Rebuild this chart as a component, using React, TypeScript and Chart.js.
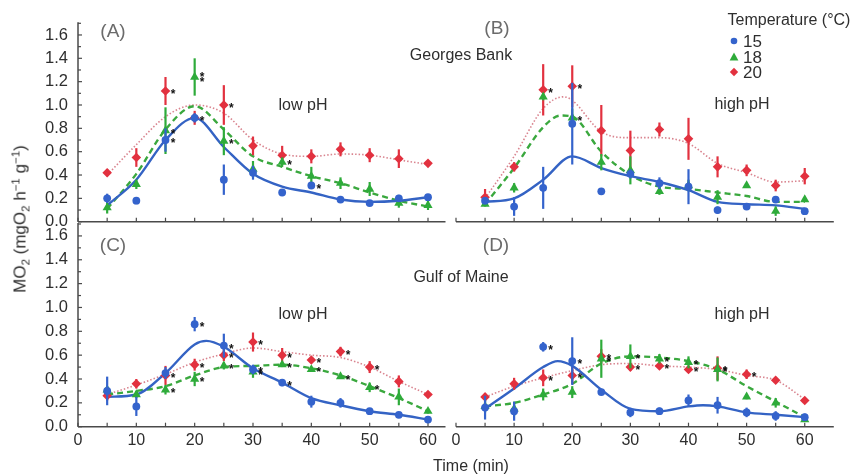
import React, { useEffect, useRef } from 'react';
import { Chart, registerables } from 'chart.js';
Chart.register(...registerables);

const W = 857;
const H = 474;
const FONT = "'Liberation Sans', Arial, Helvetica, sans-serif";
const BLUE = '#3463cc';
const GREEN = '#2eab3a';
const RED = '#e2313f';
const BLUE_CURVE = '#3463c4';
const GREEN_CURVE = '#3aa83e';
const RED_CURVE = '#d9848f';
const AXIS = '#4a4a4a';
const TEXT = '#2e2e2e';

// sampling times (min)
const times = [5, 10, 15, 20, 25, 30, 35, 40, 45, 50, 55, 60];
const xTickLabels = [0, 10, 20, 30, 40, 50, 60];
const yTickLabels = [0, 0.2, 0.4, 0.6, 0.8, 1.0, 1.2, 1.4, 1.6];

// ---- Panel A: Georges Bank, low pH ----
const A15 = [0.2, 0.18, 0.7, 0.89, 0.36, 0.42, 0.25, 0.31, 0.19, 0.16, 0.2, 0.21];
const A15err = [0.04, 0.03, 0.1, 0.04, 0.13, 0.06, 0.02, 0.03, 0.02, 0.01, 0.03, 0.02];
const A15star = [0, 0, 1, 1, 0, 0, 0, 1, 0, 0, 0, 0];
const A18 = [0.12, 0.32, 0.78, 1.24, 0.69, 0.45, 0.51, 0.39, 0.33, 0.28, 0.16, 0.14];
const A18err = [0.05, 0.04, 0.2, 0.16, 0.12, 0.07, 0.04, 0.08, 0.05, 0.06, 0.04, 0.04];
const A18star = [0, 0, 1, 2, 1, 0, 1, 0, 0, 0, 0, 0];
const A20 = [0.42, 0.55, 1.12, 0.89, 1.0, 0.65, 0.57, 0.56, 0.62, 0.57, 0.54, 0.5];
const A20err = [0.03, 0.08, 0.12, 0.06, 0.17, 0.08, 0.08, 0.06, 0.06, 0.06, 0.08, 0.02];
const A20star = [0, 0, 1, 0, 1, 0, 0, 0, 0, 0, 0, 0];
const fitA15 = [[5, 0.14], [10, 0.36], [15, 0.7], [20, 0.89], [25, 0.64], [30, 0.41], [35, 0.3], [40, 0.25], [45, 0.19], [50, 0.17], [55, 0.18], [60, 0.21]];
const fitA18 = [[5, 0.11], [10, 0.41], [15, 0.79], [20, 0.99], [25, 0.79], [30, 0.56], [35, 0.47], [40, 0.39], [45, 0.33], [50, 0.25], [55, 0.18], [60, 0.13]];
const fitA20 = [[5, 0.4], [10, 0.66], [15, 0.9], [20, 1.0], [25, 0.93], [30, 0.7], [35, 0.58], [40, 0.56], [45, 0.58], [50, 0.57], [55, 0.53], [60, 0.49]];

// ---- Panel B: Georges Bank, high pH ----
const B15 = [0.18, 0.13, 0.29, 0.84, 0.26, 0.41, 0.33, 0.3, 0.1, 0.13, 0.19, 0.09];
const B15err = [0.03, 0.08, 0.18, 0.35, 0, 0.04, 0.05, 0.15, 0.03, 0.01, 0.03, 0.02];
const B15star = [0, 0, 0, 0, 0, 0, 0, 0, 0, 0, 0, 0];
const B18 = [0.15, 0.29, 1.07, 0.89, 0.51, 0.44, 0.26, 0.31, 0.21, 0.31, 0.09, 0.19];
const B18err = [0.02, 0.04, 0.03, 0.08, 0.07, 0.12, 0.03, 0.05, 0.06, 0.02, 0.04, 0.02];
const B18star = [0, 0, 0, 1, 0, 0, 0, 0, 0, 0, 0, 0];
const B20 = [0.21, 0.47, 1.13, 1.16, 0.78, 0.61, 0.79, 0.71, 0.47, 0.44, 0.31, 0.39];
const B20err = [0.07, 0.04, 0.22, 0.18, 0.22, 0.17, 0.06, 0.18, 0.09, 0.05, 0.05, 0.07];
const B20star = [0, 0, 1, 1, 0, 0, 0, 0, 0, 0, 0, 0];
const fitB15 = [[5, 0.17], [10, 0.2], [15, 0.36], [20, 0.56], [25, 0.46], [30, 0.39], [35, 0.34], [40, 0.27], [45, 0.17], [50, 0.15], [55, 0.14], [60, 0.11]];
const fitB18 = [[5, 0.15], [10, 0.46], [15, 0.81], [18, 0.91], [20, 0.9], [25, 0.6], [30, 0.4], [35, 0.3], [40, 0.28], [45, 0.25], [50, 0.22], [55, 0.17], [60, 0.17]];
const fitB20 = [[5, 0.2], [10, 0.56], [15, 0.97], [18.5, 1.07], [20, 1.04], [25, 0.77], [30, 0.72], [35, 0.72], [40, 0.67], [45, 0.5], [50, 0.42], [55, 0.34], [60, 0.35]];

// ---- Panel C: Gulf of Maine, low pH ----
const C15 = [0.3, 0.17, 0.45, 0.86, 0.68, 0.48, 0.37, 0.21, 0.2, 0.13, 0.1, 0.06];
const C15err = [0.12, 0.08, 0.05, 0.06, 0.1, 0.04, 0.03, 0.05, 0.04, 0.02, 0.02, 0.02];
const C15star = [0, 0, 0, 1, 1, 1, 1, 0, 0, 0, 0, 0];
const C18 = [0.31, 0.27, 0.31, 0.4, 0.51, 0.46, 0.52, 0.48, 0.42, 0.33, 0.25, 0.13];
const C18err = [0.03, 0.03, 0.04, 0.06, 0.03, 0.05, 0.02, 0.02, 0.02, 0.04, 0.07, 0.02];
const C18star = [0, 0, 1, 1, 1, 1, 1, 1, 1, 1, 0, 0];
const C20 = [0.26, 0.36, 0.43, 0.52, 0.6, 0.71, 0.6, 0.56, 0.63, 0.5, 0.38, 0.27];
const C20err = [0.04, 0.04, 0.08, 0.05, 0.05, 0.08, 0.06, 0.02, 0.04, 0.05, 0.05, 0.02];
const C20star = [0, 0, 1, 1, 1, 1, 1, 1, 1, 1, 0, 0];
const fitC15 = [[5, 0.25], [10, 0.27], [15, 0.45], [20, 0.69], [22, 0.72], [25, 0.67], [30, 0.49], [35, 0.37], [40, 0.24], [45, 0.18], [50, 0.13], [55, 0.1], [60, 0.06]];
const fitC18 = [[5, 0.27], [10, 0.3], [15, 0.34], [20, 0.43], [25, 0.5], [30, 0.51], [35, 0.52], [40, 0.49], [45, 0.43], [50, 0.34], [55, 0.24], [60, 0.13]];
const fitC20 = [[5, 0.27], [10, 0.35], [15, 0.44], [20, 0.54], [25, 0.61], [30, 0.66], [35, 0.63], [40, 0.6], [45, 0.58], [50, 0.5], [55, 0.38], [60, 0.27]];

// ---- Panel D: Gulf of Maine, high pH ----
const D15 = [0.16, 0.13, 0.67, 0.55, 0.29, 0.12, 0.13, 0.22, 0.18, 0.12, 0.09, 0.08];
const D15err = [0.1, 0.08, 0.04, 0.2, 0.02, 0.04, 0.03, 0.05, 0.07, 0.04, 0.04, 0.03];
const D15star = [0, 0, 1, 1, 0, 0, 0, 0, 0, 0, 0, 0];
const D18 = [0.17, 0.15, 0.27, 0.29, 0.57, 0.59, 0.57, 0.54, 0.48, 0.25, 0.2, 0.06];
const D18err = [0.05, 0.06, 0.05, 0.05, 0.16, 0.1, 0.04, 0.05, 0.1, 0.02, 0.04, 0.02];
const D18star = [0, 0, 0, 0, 1, 1, 1, 1, 1, 0, 0, 0];
const D20 = [0.25, 0.36, 0.41, 0.43, 0.59, 0.5, 0.51, 0.48, 0.49, 0.44, 0.39, 0.22];
const D20err = [0.03, 0.05, 0.07, 0.07, 0.06, 0.03, 0.02, 0.03, 0.1, 0.04, 0.02, 0.02];
const D20star = [0, 0, 1, 1, 1, 1, 1, 1, 1, 1, 0, 0];
const fitD15 = [[5, 0.15], [10, 0.32], [15, 0.5], [17.5, 0.55], [20, 0.51], [25, 0.31], [30, 0.15], [35, 0.13], [40, 0.17], [42.5, 0.18], [45, 0.17], [50, 0.12], [55, 0.1], [60, 0.08]];
const fitD18 = [[5, 0.17], [10, 0.2], [15, 0.27], [20, 0.36], [25, 0.53], [30, 0.59], [35, 0.58], [40, 0.55], [45, 0.48], [50, 0.34], [55, 0.21], [60, 0.08]];
const fitD20 = [[5, 0.25], [10, 0.34], [15, 0.41], [20, 0.47], [25, 0.52], [30, 0.53], [35, 0.51], [40, 0.5], [45, 0.48], [50, 0.43], [55, 0.39], [60, 0.23]];

type Panel = {
  v: number[][]; e: number[][]; s: number[][]; fit: number[][][];
  left: number; top: number; right: number; bottom: number;
  xMax: number; yAxis: boolean; xLabels: boolean;
};

const TOP_Y = [23.3, 221.7];
const BOT_Y = [224, 426.7];

const panels: Panel[] = [
  { v: [A15, A18, A20], e: [A15err, A18err, A20err], s: [A15star, A18star, A20star], fit: [fitA15, fitA18, fitA20],
    left: 78, right: 445.5, top: TOP_Y[0], bottom: TOP_Y[1], xMax: 63, yAxis: true, xLabels: false },
  { v: [B15, B18, B20], e: [B15err, B18err, B20err], s: [B15star, B18star, B20star], fit: [fitB15, fitB18, fitB20],
    left: 456, right: 833.8, top: TOP_Y[0], bottom: TOP_Y[1], xMax: 65, yAxis: false, xLabels: false },
  { v: [C15, C18, C20], e: [C15err, C18err, C20err], s: [C15star, C18star, C20star], fit: [fitC15, fitC18, fitC20],
    left: 78, right: 445.5, top: BOT_Y[0], bottom: BOT_Y[1], xMax: 63, yAxis: true, xLabels: true },
  { v: [D15, D18, D20], e: [D15err, D18err, D20err], s: [D15star, D18star, D20star], fit: [fitD15, fitD18, fitD20],
    left: 456, right: 833.8, top: BOT_Y[0], bottom: BOT_Y[1], xMax: 65, yAxis: false, xLabels: true },
];

const decorPlugin = {
  id: 'decor',
  beforeDatasetsDraw(chart: any) {
    const { ctx, chartArea, scales } = chart;
    const opts = chart.options.plugins.decor;
    ctx.save();
    ctx.strokeStyle = AXIS;
    ctx.lineWidth = 1.5;
    ctx.beginPath();
    ctx.moveTo(chartArea.left, chartArea.bottom);
    ctx.lineTo(chartArea.right, chartArea.bottom);
    ctx.stroke();
    ctx.lineWidth = 1.2;
    for (let t = 0; t <= 60; t += 5) {
      const x = scales.x.getPixelForValue(t);
      ctx.beginPath();
      ctx.moveTo(x, chartArea.bottom);
      ctx.lineTo(x, chartArea.bottom - 4);
      ctx.stroke();
    }
    if (opts.yAxis) {
      ctx.lineWidth = 1.5;
      ctx.beginPath();
      ctx.moveTo(chartArea.left, chartArea.bottom);
      ctx.lineTo(chartArea.left, chartArea.top - 1);
      ctx.stroke();
      ctx.lineWidth = 1.2;
      for (let i = 0; i <= 17; i++) {
        const y = scales.y.getPixelForValue(i / 10);
        ctx.beginPath();
        ctx.moveTo(chartArea.left, y);
        ctx.lineTo(chartArea.left + (i % 2 === 0 ? 4 : 3), y);
        ctx.stroke();
      }
    }
    ctx.restore();
  },
  beforeDatasetDraw(chart: any, args: any) {
    const ds: any = chart.data.datasets[args.index];
    if (!ds.errs) return;
    const ys = chart.scales.y;
    const ctx = chart.ctx;
    ctx.save();
    ctx.strokeStyle = ds.borderColor;
    ctx.lineWidth = 2.2;
    args.meta.data.forEach((el: any, j: number) => {
      const err = ds.errs[j];
      if (!err) return;
      const v = ds.data[j].y;
      ctx.beginPath();
      ctx.moveTo(el.x, ys.getPixelForValue(v + err));
      ctx.lineTo(el.x, ys.getPixelForValue(v - err));
      ctx.stroke();
    });
    ctx.restore();
  },
  afterDatasetsDraw(chart: any) {
    const ctx = chart.ctx;
    ctx.save();
    ctx.fillStyle = '#111';
    ctx.font = `bold 12px ${FONT}`;
    ctx.textAlign = 'center';
    ctx.textBaseline = 'alphabetic';
    chart.data.datasets.forEach((ds: any, i: number) => {
      if (!ds.stars) return;
      const meta = chart.getDatasetMeta(i);
      meta.data.forEach((el: any, j: number) => {
        const n = ds.stars[j];
        if (n === 1) ctx.fillText('*', el.x + 7.5, el.y + 7);
        if (n === 2) {
          ctx.fillText('*', el.x + 7.5, el.y + 4.5);
          ctx.fillText('*', el.x + 7.5, el.y + 9.5);
        }
      });
    });
    ctx.restore();
  },
};

function makeConfig(p: Panel): any {
  const colors = [BLUE, GREEN, RED];
  const styles = ['circle', 'triangle', 'rectRot'];
  const radii = [3.9, 5.3, 4.8];
  const pointSets = [0, 1, 2].map((k) => ({
    label: ['15', '18', '20'][k],
    data: times.map((t, j) => ({ x: t, y: p.v[k][j] })),
    errs: p.e[k],
    stars: p.s[k],
    showLine: false,
    pointStyle: styles[k],
    pointRadius: radii[k],
    backgroundColor: colors[k],
    borderColor: colors[k],
    borderWidth: 0,
  }));
  const curveColors = [BLUE_CURVE, GREEN_CURVE, RED_CURVE];
  const dashes = [[], [6, 4], [1.5, 2]];
  const widths = [2.4, 2.4, 1.6];
  const curveSets = [0, 1, 2].map((k) => ({
    label: 'fit' + k,
    data: p.fit[k].map(([x, y]) => ({ x, y })),
    showLine: true,
    pointRadius: 0,
    borderColor: curveColors[k],
    borderWidth: widths[k],
    borderDash: dashes[k],
    cubicInterpolationMode: 'monotone',
    fill: false,
  }));
  const yWidth = 60;
  const xHeight = 30;
  return {
    type: 'scatter',
    data: { datasets: [...pointSets, ...curveSets] },
    plugins: [decorPlugin],
    options: {
      animation: false,
      responsive: false,
      devicePixelRatio: 1,
      events: [],
      layout: {
        padding: {
          left: p.yAxis ? p.left - yWidth : p.left,
          right: W - p.right,
          top: p.top,
          bottom: p.xLabels ? H - p.bottom - xHeight : H - p.bottom,
        },
      },
      plugins: {
        legend: { display: false },
        tooltip: { enabled: false },
        decor: { yAxis: p.yAxis },
      },
      scales: {
        x: {
          type: 'linear',
          min: 0,
          max: p.xMax,
          display: p.xLabels,
          grid: { display: false, drawTicks: false },
          border: { display: false },
          ticks: { font: { size: 16, family: FONT }, color: TEXT, padding: 4, maxRotation: 0 },
          afterBuildTicks: (s: any) => { s.ticks = xTickLabels.map((v) => ({ value: v })); },
          afterFit: (s: any) => { s.height = p.xLabels ? xHeight : 0; },
        },
        y: {
          type: 'linear',
          min: 0,
          max: 1.7,
          display: p.yAxis,
          grid: { display: false, drawTicks: false },
          border: { display: false },
          ticks: {
            font: { size: 16.5, family: FONT },
            color: TEXT,
            padding: 10,
            callback: (v: any) => Number(v).toFixed(1),
          },
          afterBuildTicks: (s: any) => { s.ticks = yTickLabels.map((v) => ({ value: v })); },
          afterFit: (s: any) => { s.width = p.yAxis ? yWidth : 0; },
        },
      },
    },
  };
}

function PanelChart({ p }: { p: Panel }) {
  const ref = useRef<HTMLCanvasElement>(null);
  useEffect(() => {
    const chart = new Chart(ref.current as HTMLCanvasElement, makeConfig(p));
    return () => chart.destroy();
  }, [p]);
  return (
    <canvas
      ref={ref}
      width={W}
      height={H}
      style={{ position: 'absolute', left: 0, top: 0, width: W, height: H }}
    />
  );
}

function Label({ x, y, text, size = 16, color = TEXT }: { x: number; y: number; text: string; size?: number; color?: string }) {
  return (
    <div
      style={{
        position: 'absolute', left: x, top: y, transform: 'translate(-50%, -50%)',
        font: `${size}px ${FONT}`, color, whiteSpace: 'nowrap', lineHeight: 1,
      }}
    >
      {text}
    </div>
  );
}

const sub: React.CSSProperties = { fontSize: 11.5, position: 'relative', top: 4 };
const sup: React.CSSProperties = { fontSize: 11.5, position: 'relative', top: -6 };

function LegendMarker({ kind, color }: { kind: string; color: string }) {
  return (
    <svg width={10} height={10} style={{ position: 'absolute', left: -5, top: -5 }}>
      {kind === 'circle' && <circle cx={5} cy={5} r={3.3} fill={color} />}
      {kind === 'triangle' && <polygon points="5,0.6 9.4,8.6 0.6,8.6" fill={color} />}
      {kind === 'diamond' && <polygon points="5,0.8 9.2,5 5,9.2 0.8,5" fill={color} />}
    </svg>
  );
}

export default function App() {
  const legend = [
    { t: '15', c: BLUE, k: 'circle', y: 41 },
    { t: '18', c: GREEN, k: 'triangle', y: 56.5 },
    { t: '20', c: RED, k: 'diamond', y: 72 },
  ];
  return (
    <div style={{ position: 'fixed', left: 0, top: 0, width: W, height: H, background: '#fff', overflow: 'hidden' }}>
      {panels.map((p, i) => (
        <PanelChart key={i} p={p} />
      ))}
      <Label x={113} y={30} text="(A)" size={19} color="#6b6b6b" />
      <Label x={497} y={27} text="(B)" size={19} color="#6b6b6b" />
      <Label x={113} y={244} text="(C)" size={19} color="#6b6b6b" />
      <Label x={496} y={244} text="(D)" size={19} color="#6b6b6b" />
      <Label x={461} y={55} text="Georges Bank" />
      <Label x={461} y={277} text="Gulf of Maine" />
      <Label x={303} y={105} text="low pH" />
      <Label x={742} y={104} text="high pH" />
      <Label x={303} y={314} text="low pH" />
      <Label x={742} y={314} text="high pH" />
      <Label x={789} y={19.5} text="Temperature (°C)" />
      {legend.map((l) => (
        <div key={l.t} style={{ position: 'absolute', left: 734, top: l.y }}>
          <LegendMarker kind={l.k} color={l.c} />
          <div style={{ position: 'absolute', left: 9, top: 0, transform: 'translateY(-50%)', font: `17px ${FONT}`, color: TEXT, lineHeight: 1 }}>
            {l.t}
          </div>
        </div>
      ))}
      <Label x={471} y={466} text="Time (min)" />
      <div
        style={{
          position: 'absolute', left: 21, top: 219,
          transform: 'translate(-50%, -50%) rotate(-90deg)',
          font: `17px ${FONT}`, color: TEXT, whiteSpace: 'nowrap', lineHeight: '17px',
        }}
      >
        MO<span style={sub}>2</span> (mgO<span style={sub}>2</span> h<span style={sup}>−1</span> g<span style={sup}>−1</span>)
      </div>
    </div>
  );
}
